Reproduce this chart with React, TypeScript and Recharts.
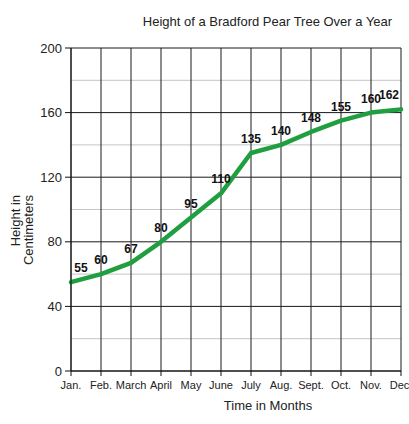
import React from "react";
import {
  LineChart,
  Line,
  XAxis,
  YAxis,
  CartesianGrid,
  LabelList,
  Label,
} from "recharts";

const months = ["Jan.", "Feb.", "March", "April", "May", "June", "July", "Aug.", "Sept.", "Oct.", "Nov.", "Dec."];
const heights = [55, 60, 67, 80, 95, 110, 135, 140, 148, 155, 160, 162];
const yTicks = [0, 40, 80, 120, 160, 200];
const minorLines = [20, 60, 100, 140, 180];

const data = months.map((month, i) => ({ month, height: heights[i] }));

const FONT = "Arial, 'Liberation Sans', sans-serif";

const PointLabel = (props: any) => {
  const { x, y, value, index } = props;
  // nudge the end labels inwards like the original
  let dx = 0;
  if (index === 0) dx = 10;
  if (index === months.length - 1) dx = -12;
  return (
    <text
      x={x + dx}
      y={y - 10}
      textAnchor="middle"
      fontFamily={FONT}
      fontSize={12}
      fontWeight="bold"
      fill="#111"
    >
      {value}
    </text>
  );
};

const XTitle = (props: any) => {
  const { viewBox } = props;
  return (
    <text x={viewBox.x + 197} y={410} textAnchor="middle" fontFamily={FONT} fontSize={13} fill="#222">
      Time in Months
    </text>
  );
};

const YTitle = () => (
  <g fontFamily={FONT} fontSize={13} fill="#222">
    <text x={19.5} y={195} textAnchor="end" transform="rotate(-90, 19.5, 195)">
      Height in
    </text>
    <text x={32.5} y={195} textAnchor="end" transform="rotate(-90, 32.5, 195)">
      Centimeters
    </text>
  </g>
);

export default function App() {
  return (
    <div style={{ position: "absolute", left: 0, top: 0, width: 409, height: 424, background: "#fff" }}>
      <div
        style={{
          position: "absolute",
          left: 267.5,
          top: 14,
          transform: "translateX(-50%)",
          whiteSpace: "nowrap",
          fontFamily: FONT,
          fontSize: 13,
          lineHeight: "15px",
          color: "#222",
        }}
      >
        Height of a Bradford Pear Tree Over a Year
      </div>
      <LineChart width={409} height={424} data={data} margin={{ top: 48, right: 8, bottom: 0, left: 0 }}>
        <CartesianGrid horizontalValues={minorLines} vertical={false} stroke="#c4c4c4" strokeWidth={1} />
        <CartesianGrid horizontalValues={yTicks} stroke="#1a1a1a" strokeWidth={1} />
        <XAxis
          dataKey="month"
          height={53}
          padding={{ left: 0, right: 0 }}
          interval={0}
          tickSize={5}
          tickMargin={5}
          tick={{ fontSize: 11, fill: "#222", fontFamily: FONT }}
          stroke="#111"
          axisLine={{ stroke: "#111" }}
          tickLine={{ stroke: "#111" }}
        >
          <Label content={<XTitle />} />
        </XAxis>
        <YAxis
          width={71}
          domain={[0, 200]}
          ticks={yTicks}
          interval={0}
          tickSize={6}
          tickMargin={3}
          tick={{ fontSize: 13, fill: "#222", fontFamily: FONT }}
          axisLine={{ stroke: "#111" }}
          tickLine={{ stroke: "#111" }}
        >
          <Label content={<YTitle />} />
        </YAxis>
        <Line
          type="linear"
          dataKey="height"
          stroke="#1f9f3f"
          strokeWidth={4.5}
          strokeLinejoin="round"
          strokeLinecap="round"
          dot={false}
          isAnimationActive={false}
        >
          <LabelList dataKey="height" content={<PointLabel />} />
        </Line>
      </LineChart>
    </div>
  );
}
